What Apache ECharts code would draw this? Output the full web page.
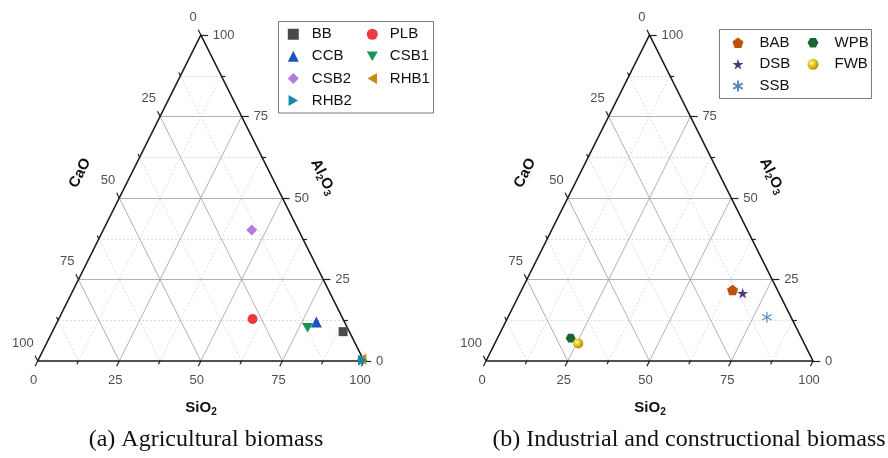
<!DOCTYPE html>
<html><head><meta charset="utf-8">
<script src="https://cdn.jsdelivr.net/npm/echarts@6/dist/echarts.min.js"></script>
<style>html,body{margin:0;padding:0;background:#fff}#c{width:888px;height:458px}</style>
</head><body><div id="c"></div>
<script>
// ---------- data ----------
const tickValues = [0, 25, 50, 75, 100];
const tickLabels = ['0', '25', '50', '75', '100'];
const gridValues = [12.5, 25, 37.5, 50, 62.5, 75, 87.5];
const minorTicks = [12.5, 37.5, 62.5, 87.5];

// (a) Agricultural biomass: SiO2 / Al2O3 / CaO (%)
const agriNames = ['BB', 'PLB', 'CCB', 'CSB1', 'CSB2', 'RHB1', 'RHB2'];
const agriSiO2  = [89.1, 59.4, 79.4, 77.6, 45.5, 99.0, 99.5];
const agriAl2O3 = [9.0, 12.9, 12.0, 10.2, 40.2, 0.5, 0.2];
const agriCaO   = [1.9, 27.7, 8.6, 12.2, 14.3, 0.5, 0.3];

// (b) Industrial and constructional biomass
const indNames = ['BAB', 'DSB', 'SSB', 'WPB', 'FWB'];
const indSiO2  = [64.5, 68.1, 79.2, 22.4, 25.5];
const indAl2O3 = [21.8, 20.8, 13.4, 7.0, 5.4];
const indCaO   = [13.7, 11.1, 7.4, 70.6, 69.1];

// ---------- styles ----------
const markerStyle = {
  BB:   {symbol: 'rect', size: 9, color: '#4a4a4a'},
  PLB:  {symbol: 'circle', size: 10, color: '#ec3b3b'},
  CCB:  {symbol: 'triangle', size: 11, color: '#1a56c0'},
  CSB1: {symbol: 'path://M0,0 L10,0 L5,8.66 Z', size: 11, color: '#16955a'},
  CSB2: {symbol: 'diamond', size: 11, color: '#b27dd6'},
  RHB1: {symbol: 'path://M8.66,0 L8.66,10 L0,5 Z', size: 11, color: '#c58a10'},
  RHB2: {symbol: 'path://M0,0 L0,10 L8.66,5 Z', size: 11, color: '#1788ab'},
  BAB:  {symbol: 'path://M10,0 L19.51,6.91 L15.88,18.09 L4.12,18.09 L0.49,6.91 Z', size: 11, color: '#bd520a'},
  DSB:  {symbol: 'path://M10,0 L12.24,6.91 L19.51,6.91 L13.63,11.18 L15.88,18.09 L10,13.82 L4.12,18.09 L6.37,11.18 L0.49,6.91 L7.76,6.91 Z', size: 11, color: '#553579'},
  SSB:  {symbol: 'path://M10,0 L10,20 M1.34,5 L18.66,15 M1.34,15 L18.66,5', size: 11, color: '#5a8ac0', stroke: true},
  WPB:  {symbol: 'path://M20,10 L15,18.66 L5,18.66 L0,10 L5,1.34 L15,1.34 Z', size: 10, color: '#1a6532'},
  FWB:  {symbol: 'circle', size: 10, color: {type: 'radial', x: 0.38, y: 0.38, r: 0.7,
          colorStops: [{offset: 0, color: '#fff6b0'}, {offset: 0.5, color: '#e0c010'}, {offset: 1, color: '#a08400'}]}}
};

const FONT = 'Liberation Sans, Arial, sans-serif';
const grids = [
  {left: 37.7, top: 35, width: 326.3, height: 326},
  {left: 486, top: 35, width: 327, height: 326}
];

function proj(s, a, c) {
  const t = s + a + c;
  const sn = s / t * 100, an = a / t * 100;
  return [sn + an / 2, an];
}

const series = [];
function addPanel(p, names, S, A, C) {
  const common = {xAxisIndex: p, yAxisIndex: p, silent: true, clip: false, animation: false};
  const major = [], minor = [];
  gridValues.forEach(k => {
    const segs = [
      [[k / 2, k], [100 - k / 2, k]],
      [[k, 0], [k + (100 - k) / 2, 100 - k]],
      [[100 - k, 0], [(100 - k) / 2, 100 - k]]
    ];
    (k % 25 === 0 ? major : minor).push(...segs.map(c => ({coords: c})));
  });
  series.push(Object.assign({type: 'lines', coordinateSystem: 'cartesian2d', data: minor, z: 1,
    lineStyle: {color: '#d2d2d2', width: 0.8, type: [2, 2], opacity: 1}}, common));
  series.push(Object.assign({type: 'lines', coordinateSystem: 'cartesian2d', data: major, z: 1,
    lineStyle: {color: '#a8a8a8', width: 0.9, opacity: 1}}, common));
  // ticks
  const ticks = [];
  const addTick = (k, t, r) => {
    ticks.push({coords: [[k, 0], [k - 0.5 * t, -t]]});
    const xr = 100 - k / 2;
    ticks.push({coords: [[xr, k], [xr + r, k]]});
    const xl = (100 - k) / 2, yl = 100 - k;
    ticks.push({coords: [[xl, yl], [xl - 0.5 * t, yl + t]]});
  };
  tickValues.forEach(k => addTick(k, 1.6, 2.2));
  minorTicks.forEach(k => addTick(k, 1.0, 1.3));
  series.push(Object.assign({type: 'lines', coordinateSystem: 'cartesian2d', data: ticks, z: 3,
    lineStyle: {color: '#222', width: 1.2, opacity: 1}}, common));
  // frame
  series.push(Object.assign({type: 'lines', coordinateSystem: 'cartesian2d', polyline: true, z: 3,
    data: [{coords: [[0, 0], [100, 0], [50, 100], [0, 0]]}],
    lineStyle: {color: '#1a1a1a', width: 1.6, opacity: 1, join: 'miter'}}, common));
  // tick labels
  const lab = {show: true, position: 'inside', fontSize: 13, color: '#222', fontFamily: FONT};
  const labSeries = (pts, extra) => Object.assign({type: 'scatter', symbolSize: 1, z: 4,
    itemStyle: {color: 'rgba(0,0,0,0)'},
    data: pts.map((v, i) => ({value: v, label: {formatter: tickLabels[i]}})),
    label: Object.assign({}, lab, extra)}, common);
  series.push(labSeries(tickValues.map(k => [k, 0]), {align: 'center', verticalAlign: 'middle', offset: [-4, 19]}));
  series.push(labSeries(tickValues.map(k => [(100 - k) / 2, 100 - k]), {align: 'right', verticalAlign: 'middle', offset: [-4, -18]}));
  series.push(labSeries(tickValues.map(k => [100 - k / 2, k]), {align: 'left', verticalAlign: 'middle', offset: [12, 0]}));
  // samples
  names.forEach((n, i) => {
    const st = markerStyle[n];
    series.push({
      type: 'scatter', name: n, xAxisIndex: p, yAxisIndex: p, z: 5, clip: false,
      symbol: st.symbol, symbolSize: st.size, symbolKeepAspect: true,
      itemStyle: st.stroke ? {color: st.color, borderColor: st.color, borderWidth: 1.2, opacity: 1}
                           : {color: st.color, opacity: 1},
      data: [proj(S[i], A[i], C[i])]
    });
  });
}
addPanel(0, agriNames, agriSiO2, agriAl2O3, agriCaO);
addPanel(1, indNames, indSiO2, indAl2O3, indCaO);

const legendBase = {orient: 'vertical', padding: 0, itemGap: 0, itemWidth: 11, itemHeight: 11,
  selectedMode: false};
function leg(data, left, top, lh, padL) {
  return Object.assign({}, legendBase, {data, left, top,
    textStyle: {fontSize: 15, color: '#111', fontFamily: FONT, lineHeight: lh, padding: [0, 0, 0, padL]}});
}

const titleStyle = (txt, x, y, rot) => ({
  type: 'text', x, y, rotation: rot, z: 10,
  style: {text: txt, align: 'center', verticalAlign: 'middle', fill: '#111',
    rich: {a: {fontSize: 15, fontWeight: 'bold', fontFamily: FONT, lineHeight: 18, fill: '#111'},
           b: {fontSize: 10, fontWeight: 'bold', fontFamily: FONT, lineHeight: 10, verticalAlign: 'bottom', fill: '#111'}}}
});
const ROT = 63.5 * Math.PI / 180;

const option = {
  animation: false,
  backgroundColor: '#fff',
  grid: grids,
  xAxis: grids.map((g, i) => ({type: 'value', gridIndex: i, min: 0, max: 100, show: false})),
  yAxis: grids.map((g, i) => ({type: 'value', gridIndex: i, min: 0, max: 100, show: false})),
  legend: [
    leg(['BB', 'CCB', 'CSB2', 'RHB2'], 287.8, 23.2, 22.1, 8),
    leg(['PLB', 'CSB1', 'RHB1'], 366.8, 23.2, 22.1, 7),
    leg(['BAB', 'DSB', 'SSB'], 732.2, 31.8, 21.7, 11),
    leg(['WPB', 'FWB'], 807.5, 31.8, 21.7, 11)
  ],
  graphic: [
    {type: 'rect', shape: {x: 278.5, y: 21.5, width: 155, height: 91.5}, z: 0,
     style: {fill: '#fff', stroke: '#7a7a7a', lineWidth: 1}},
    {type: 'rect', shape: {x: 719.5, y: 29.5, width: 152, height: 69}, z: 0,
     style: {fill: '#fff', stroke: '#7a7a7a', lineWidth: 1}},
    titleStyle('{a|SiO}{b|2}', 201, 408, 0),
    titleStyle('{a|CaO}', 80, 173, ROT),
    titleStyle('{a|Al}{b|2}{a|O}{b|3}', 323, 177, -ROT),
    titleStyle('{a|SiO}{b|2}', 650, 408, 0),
    titleStyle('{a|CaO}', 525, 173, ROT),
    titleStyle('{a|Al}{b|2}{a|O}{b|3}', 772, 176, -ROT),
    {type: 'text', x: 206, y: 440, z: 10,
     style: {text: '(a) Agricultural biomass', align: 'center', verticalAlign: 'middle',
       fontSize: 24, fontFamily: 'Liberation Serif, Times New Roman, serif', fill: '#111'}},
    {type: 'text', x: 689, y: 440, z: 10,
     style: {text: '(b) Industrial and constructional biomass', align: 'center', verticalAlign: 'middle',
       fontSize: 24, fontFamily: 'Liberation Serif, Times New Roman, serif', fill: '#111'}}
  ],
  series
};
const chart = echarts.init(document.getElementById('c'));
chart.setOption(option);
</script>
</body></html>
